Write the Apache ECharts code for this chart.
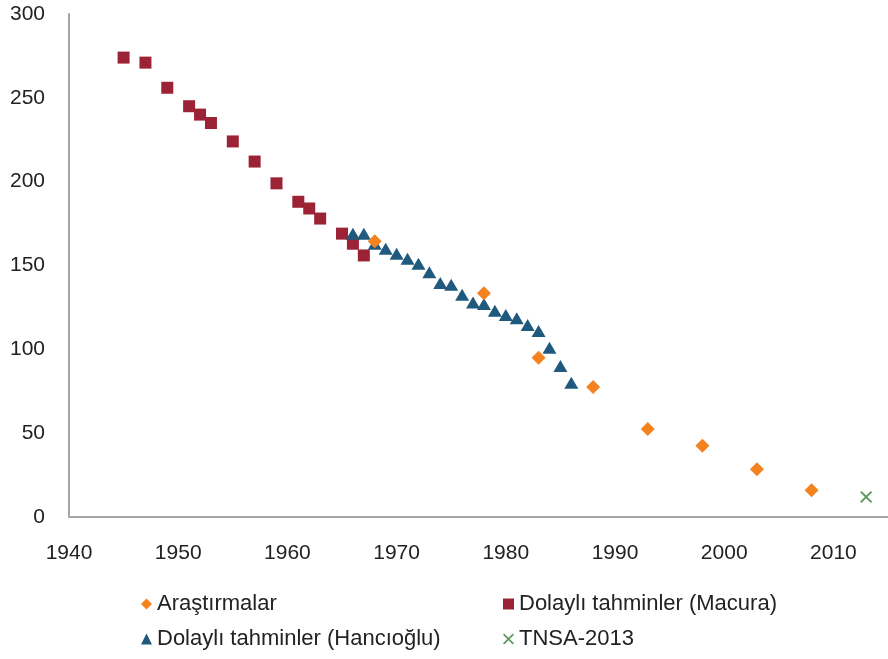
<!DOCTYPE html>
<html>
<head>
<meta charset="utf-8">
<script src="https://cdn.jsdelivr.net/npm/echarts@6/dist/echarts.min.js"></script>
<style>
html,body{margin:0;padding:0;background:#fff;}
#chart{width:888px;height:659px;}
</style>
</head>
<body>
<div id="chart"></div>
<script>
// Series names
const nameArastirma = 'Araştırmalar';
const nameMacura = 'Dolaylı tahminler (Macura)';
const nameHancioglu = 'Dolaylı tahminler (Hancıoğlu)';
const nameTnsa = 'TNSA-2013';

// Araştırmalar (orange diamonds)
const arastirmaYears = [1968, 1978, 1983, 1988, 1993, 1998, 2003, 2008];
const arastirmaValues = [164.5, 133.5, 95, 77.5, 52.5, 42.5, 28.5, 16];

// Dolaylı tahminler (Macura) (red squares)
const macuraYears = [1945, 1947, 1949, 1951, 1952, 1953, 1955, 1957, 1959, 1961, 1962, 1963, 1965, 1966, 1967];
const macuraValues = [274, 271, 256, 245, 240, 235, 224, 212, 199, 188, 184, 178, 169, 163, 156];

// Dolaylı tahminler (Hancıoğlu) (blue triangles)
const hanciogluYears = [1966, 1967, 1968, 1969, 1970, 1971, 1972, 1973, 1974, 1975, 1976, 1977, 1978, 1979, 1980, 1981, 1982, 1983, 1984, 1985, 1986];
const hanciogluValues = [169, 169, 163, 160, 157, 154, 151, 146, 139.5, 138.5, 132.5, 128, 127, 123, 120.5, 118.5, 114.5, 111, 101, 90, 80];

// TNSA-2013 (green cross)
const tnsaYears = [2013];
const tnsaValues = [12];

// Axis settings
const xMin = 1940, xMax = 2015, xStep = 10;
const yMin = 0, yMax = 300, yStep = 50;

function pairs(xs, ys) { return xs.map((x, i) => [x, ys[i]]); }

const crossPath = 'path://M0,1.1L1.1,0L5,3.9L8.9,0L10,1.1L6.1,5L10,8.9L8.9,10L5,6.1L1.1,10L0,8.9L3.9,5Z';

const colOrange = '#F4821F';
const colRed = '#9B2335';
const colBlue = '#1F5A7E';
const colGreen = '#5E9A5E';

const fontFam = '"Liberation Sans", Arial, sans-serif';
const txtCol = '#222';

function legendAt(name, left, top) {
  return {
    data: [name], left: left, top: top, orient: 'horizontal',
    itemWidth: 11, itemHeight: 11, padding: 0,
    textStyle: { fontFamily: fontFam, fontSize: 22, color: txtCol },
    selectedMode: false
  };
}

const chart = echarts.init(document.getElementById('chart'), null, { renderer: 'canvas' });
chart.setOption({
  animation: false,
  backgroundColor: '#fff',
  grid: { left: 69, top: 14, width: 829, height: 503, containLabel: false },
  xAxis: {
    type: 'value', min: xMin, max: xMax, interval: xStep,
    axisLine: { show: true, lineStyle: { color: '#A6A6A6', width: 2 } },
    axisTick: { show: false },
    splitLine: { show: false },
    axisLabel: { fontFamily: fontFam, fontSize: 21, color: txtCol, margin: 26, showMaxLabel: false, formatter: v => String(v) }
  },
  yAxis: {
    type: 'value', min: yMin, max: yMax, interval: yStep,
    axisLine: { show: true, lineStyle: { color: '#A6A6A6', width: 2 } },
    axisTick: { show: false },
    splitLine: { show: false },
    axisLabel: { fontFamily: fontFam, fontSize: 21, color: txtCol, margin: 24 }
  },
  legend: [
    legendAt(nameArastirma, 141, 593),
    legendAt(nameHancioglu, 141, 628),
    legendAt(nameMacura, 503, 593),
    legendAt(nameTnsa, 503, 628)
  ],
  series: [
    { name: nameMacura, type: 'scatter', symbol: 'rect', symbolSize: 12,
      itemStyle: { color: colRed, opacity: 1 }, data: pairs(macuraYears, macuraValues) },
    { name: nameHancioglu, type: 'scatter', symbol: 'triangle', symbolSize: [14, 12],
      itemStyle: { color: colBlue, opacity: 1 }, data: pairs(hanciogluYears, hanciogluValues) },
    { name: nameArastirma, type: 'scatter', symbol: 'diamond', symbolSize: 14,
      itemStyle: { color: colOrange, opacity: 1 }, data: pairs(arastirmaYears, arastirmaValues) },
    { name: nameTnsa, type: 'scatter', symbol: crossPath, symbolSize: 12,
      itemStyle: { color: colGreen, opacity: 1 }, data: pairs(tnsaYears, tnsaValues) }
  ]
});
</script>
</body>
</html>
